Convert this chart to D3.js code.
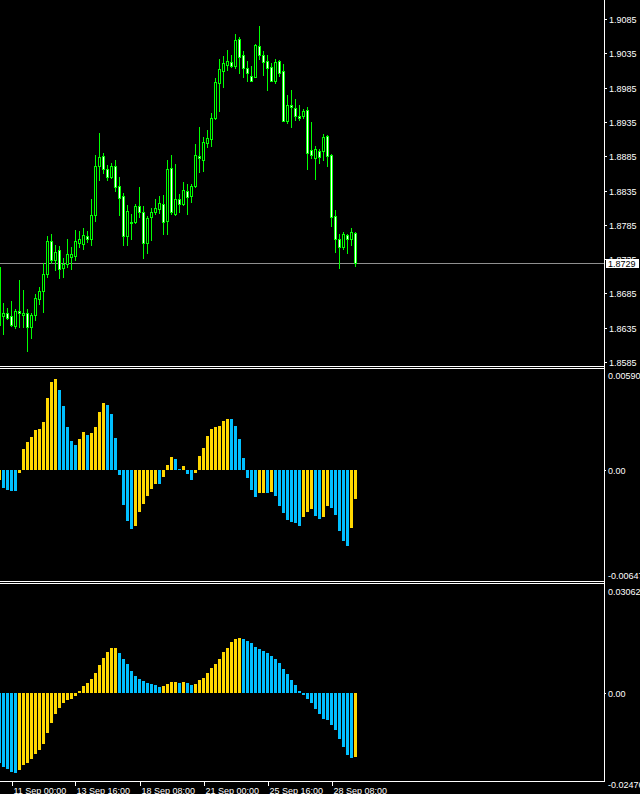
<!DOCTYPE html>
<html><head><meta charset="utf-8">
<script src="https://cdn.jsdelivr.net/npm/d3@7"></script>
<style>html,body{margin:0;padding:0;background:#000;overflow:hidden}</style>
</head><body>
<script>
// ---- DATA ----
const opens = [1.8724,1.8652,1.8657,1.8652,1.8637,1.8659,1.8654,1.8656,1.8636,1.8653,
1.8677,1.8688,1.8714,1.8761,1.8734,1.8748,1.8722,1.8728,1.8738,1.8740,
1.8759,1.8757,1.8769,1.8765,1.8800,1.8870,1.8885,1.8867,1.8854,1.8871,
1.8842,1.8827,1.8768,1.8789,1.8789,1.8812,1.8804,1.8759,1.8796,1.8803,
1.8808,1.8815,1.8791,1.8868,1.8801,1.8823,1.8816,1.8834,1.8827,1.8842,
1.8886,1.8879,1.8904,1.8910,1.8941,1.8991,1.9009,1.9018,1.9022,1.9017,
1.9056,1.9032,1.9014,1.9002,1.9001,1.9046,1.9032,1.9024,1.9015,1.8994,
1.9024,1.9009,1.8937,1.8960,1.8955,1.8944,1.8944,1.8952,1.8894,1.8883,
1.8893,1.8892,1.8914,1.8887,1.8798,1.8764,1.8752,1.8770,1.8765,1.8773];
const highs = [1.8726,1.8671,1.8663,1.8674,1.8662,1.8704,1.8690,1.8662,1.8656,1.8684,
1.8695,1.8730,1.8769,1.8772,1.8756,1.8754,1.8737,1.8764,1.8753,1.8777,
1.8776,1.8780,1.8776,1.8823,1.8887,1.8919,1.8890,1.8872,1.8875,1.8879,
1.8855,1.8832,1.8814,1.8801,1.8815,1.8840,1.8812,1.8798,1.8809,1.8823,
1.8827,1.8828,1.8879,1.8887,1.8874,1.8830,1.8847,1.8844,1.8844,1.8903,
1.8928,1.8913,1.8923,1.8948,1.8999,1.9027,1.9031,1.9040,1.9032,1.9063,
1.9059,1.9038,1.9024,1.9016,1.9049,1.9075,1.9038,1.9032,1.9021,1.9027,
1.9025,1.9019,1.8974,1.8981,1.8968,1.8960,1.8954,1.8957,1.8935,1.8900,
1.8896,1.8917,1.8916,1.8888,1.8807,1.8772,1.8774,1.8772,1.8780,1.8774];
const lows = [1.8636,1.8626,1.8647,1.8638,1.8635,1.8636,1.8636,1.8601,1.8620,1.8646,
1.8669,1.8658,1.8709,1.8729,1.8719,1.8708,1.8709,1.8724,1.8721,1.8733,
1.8752,1.8749,1.8760,1.8755,1.8791,1.8850,1.8860,1.8850,1.8853,1.8835,
1.8800,1.8755,1.8755,1.8765,1.8788,1.8797,1.8736,1.8744,1.8763,1.8801,
1.8802,1.8772,1.8772,1.8801,1.8800,1.8803,1.8814,1.8801,1.8818,1.8840,
1.8862,1.8863,1.8898,1.8900,1.8939,1.8951,1.8986,1.9010,1.9015,1.9014,
1.9007,1.9001,1.8994,1.8994,1.9000,1.9026,1.9003,1.8982,1.8994,1.8991,
1.9002,1.8936,1.8934,1.8928,1.8938,1.8938,1.8941,1.8867,1.8882,1.8852,
1.8875,1.8880,1.8870,1.8783,1.8746,1.8722,1.8749,1.8744,1.8755,1.8725];
const closes = [1.8639,1.8656,1.8649,1.8639,1.8659,1.8657,1.8656,1.8636,1.8654,1.8678,
1.8688,1.8714,1.8761,1.8733,1.8745,1.8721,1.8728,1.8742,1.8742,1.8762,
1.8764,1.8770,1.8764,1.8799,1.8871,1.8884,1.8866,1.8855,1.8871,1.8840,
1.8824,1.8768,1.8805,1.8787,1.8812,1.8803,1.8758,1.8795,1.8804,1.8809,
1.8817,1.8789,1.8866,1.8803,1.8823,1.8815,1.8836,1.8825,1.8842,1.8887,
1.8883,1.8906,1.8911,1.8941,1.8993,1.9012,1.9021,1.9024,1.9017,1.9054,
1.9030,1.9014,1.9007,1.8995,1.9047,1.9033,1.9022,1.9014,1.8995,1.9022,
1.9007,1.8937,1.8960,1.8956,1.8943,1.8941,1.8951,1.8889,1.8887,1.8896,
1.8884,1.8913,1.8886,1.8797,1.8765,1.8752,1.8771,1.8765,1.8774,1.8729];
const lastPrice = 1.8729;
const priceTicks = [1.9085,1.9035,1.8985,1.8935,1.8885,1.8835,1.8785,1.8735,1.8685,1.8635,1.8585];

const osc1 = [-0.00056,-0.00103,-0.00115,-0.00121,-0.00121,-0.00016,0.00123,0.00164,0.00193,0.00234,
0.00240,0.00286,0.00426,0.00520,0.00537,0.00473,0.00380,0.00257,0.00169,0.00146,
0.00181,0.00222,0.00210,0.00216,0.00257,0.00345,0.00397,0.00386,0.00333,0.00187,
-0.00029,-0.00204,-0.00298,-0.00345,-0.00327,-0.00245,-0.00199,-0.00152,-0.00111,-0.00082,
-0.00082,-0.00041,0.00029,0.00076,0.00064,0.00004,0.00023,-0.00023,-0.00058,-0.00018,
0.00082,0.00129,0.00199,0.00240,0.00257,0.00263,0.00292,0.00304,0.00303,0.00263,
0.00181,0.00070,-0.00047,-0.00117,-0.00158,-0.00134,-0.00133,-0.00135,-0.00129,-0.00152,
-0.00210,-0.00251,-0.00292,-0.00304,-0.00310,-0.00327,-0.00275,-0.00245,-0.00228,-0.00269,
-0.00286,-0.00275,-0.00210,-0.00222,-0.00263,-0.00356,-0.00420,-0.00444,-0.00339,-0.00168];
const osc1State = ("U"+"DDDD"+"UUUUUUUUUU"+"DDDDD"+"UU"+"D"+"UUUU"+"DDDDDDD"+"UUUUUU"+"D"+"UUU"+"DD"+"U"+"DD"+
  "UUUUUUUUU"+"DDDDDDD"+"UU"+"D"+"U"+"DDDDDDD"+"UUU"+"DD"+"UU"+"DDDDD"+"UU").split("");
const osc1Max = 0.00590, osc1Min = -0.00647;

const osc2 = [-0.02003,-0.02118,-0.02175,-0.02261,-0.02290,-0.02204,-0.02060,-0.02003,-0.01889,-0.01746,
-0.01631,-0.01460,-0.01145,-0.00859,-0.00601,-0.00429,-0.00286,-0.00200,-0.00172,-0.00086,
0.00057,0.00200,0.00286,0.00400,0.00572,0.00801,0.01002,0.01173,0.01288,0.01290,
0.01145,0.00973,0.00830,0.00630,0.00487,0.00400,0.00343,0.00286,0.00258,0.00229,
0.00172,0.00200,0.00258,0.00315,0.00316,0.00286,0.00315,0.00286,0.00229,0.00258,
0.00372,0.00429,0.00572,0.00716,0.00830,0.00973,0.01173,0.01288,0.01460,0.01545,
0.01574,0.01545,0.01488,0.01431,0.01317,0.01259,0.01202,0.01145,0.01059,0.00973,
0.00859,0.00687,0.00544,0.00372,0.00229,0.00057,-0.00057,-0.00172,-0.00286,-0.00458,
-0.00601,-0.00744,-0.00773,-0.00916,-0.01059,-0.01317,-0.01545,-0.01774,-0.01860,-0.01832];
const osc2State = ("DDDDD"+"UUUUUUUUUUUUUUUUUUUUUUUUU"+"DDDDDDDDDDD"+"UUUU"+"D"+"U"+"DD"+"UUUUUUUUUUUU"+
  "DDDDDDDDDDDDDDDDDDDDDDDDDDDD"+"U").split("");
const osc2Max = 0.03062, osc2Min = -0.02476;

const timeTickIndex = [3,19,35,51,67,83];
const timeTickLabels = ["11 Sep 00:00","13 Sep 16:00","18 Sep 08:00","21 Sep 00:00","25 Sep 16:00","28 Sep 08:00"];

// ---- DRAW ----
const W = 640, H = 794, axisX = 604;
const FONT = "'Liberation Sans', Arial, sans-serif";
const svg = d3.select("body").append("svg").attr("width", W).attr("height", H)
  .style("display","block").style("background","#000");

const n = closes.length;
const x = d3.scaleLinear().domain([0, n - 1]).range([-0.5, 4 * (n - 1) - 0.5]);
const yP = d3.scaleLinear().domain([1.8585, 1.9085]).range([362, 19]);
const y1 = d3.scaleLinear().domain([osc1Min, osc1Max]).range([580, 370]);
const y2 = d3.scaleLinear().domain([osc2Min, osc2Max]).range([780, 586]);

const defs = svg.append("defs");
defs.append("clipPath").attr("id","cp0").append("rect").attr("x",0).attr("y",0).attr("width",axisX).attr("height",366);
defs.append("clipPath").attr("id","cp1").append("rect").attr("x",0).attr("y",369).attr("width",axisX).attr("height",212);
defs.append("clipPath").attr("id","cp2").append("rect").attr("x",0).attr("y",584).attr("width",axisX).attr("height",197);

// current price line
svg.append("line").attr("x1",0).attr("x2",axisX).attr("y1",Math.round(yP(lastPrice))+0.5).attr("y2",Math.round(yP(lastPrice))+0.5)
  .attr("stroke","#8f8f8f").attr("shape-rendering","crispEdges");

// candles
const gC = svg.append("g").attr("clip-path","url(#cp0)").attr("shape-rendering","crispEdges");
const idx = d3.range(n);
gC.selectAll("line.w").data(idx).join("line").attr("class","w")
  .attr("x1", i => x(i)).attr("x2", i => x(i))
  .attr("y1", i => Math.round(yP(highs[i]))).attr("y2", i => Math.round(yP(lows[i])) + 1)
  .attr("stroke","#00ff00").attr("stroke-width",1);
gC.selectAll("rect.b").data(idx).join("rect").attr("class","b")
  .attr("x", i => x(i) - 1)
  .attr("y", i => Math.round(yP(Math.max(opens[i], closes[i]))) + 0.5)
  .attr("width", 2)
  .attr("height", i => Math.max(0, Math.round(yP(Math.min(opens[i], closes[i]))) - Math.round(yP(Math.max(opens[i], closes[i])))))
  .attr("fill", i => closes[i] < opens[i] ? "#ffffff" : "#000000")
  .attr("stroke","#00ff00").attr("stroke-width",1);

// histograms
function hist(data, state, y, clip) {
  const g = svg.append("g").attr("clip-path", clip).attr("shape-rendering","crispEdges");
  const y0 = Math.round(y(0));
  g.selectAll("rect").data(idx).join("rect")
    .attr("x", i => x(i) - 1.5)
    .attr("width", 3)
    .attr("y", i => data[i] >= 0 ? Math.round(y(data[i])) : y0)
    .attr("height", i => Math.max(1, Math.abs(Math.round(y(data[i])) - y0)))
    .attr("fill", i => state[i] === "U" ? "#ffd700" : "#00bfff");
}
hist(osc1, osc1State, y1, "url(#cp1)");
hist(osc2, osc2State, y2, "url(#cp2)");

// frames
const fr = svg.append("g").attr("stroke","#ffffff").attr("stroke-width",1).attr("shape-rendering","crispEdges");
[366.5, 368.5, 581.5, 583.5, 781.5].forEach(yy =>
  fr.append("line").attr("x1",0).attr("x2",axisX + 1).attr("y1",yy).attr("y2",yy));
fr.append("line").attr("x1",axisX + 0.5).attr("x2",axisX + 0.5).attr("y1",0).attr("y2",782);

// price axis
const ax = svg.append("g").attr("font-family", FONT).attr("font-size", 9).attr("fill","#fff");
priceTicks.forEach(p => {
  const yy = Math.round(yP(p));
  fr.append("line").attr("x1",axisX).attr("x2",axisX + 3).attr("y1",yy + 0.5).attr("y2",yy + 0.5);
  ax.append("text").attr("x",609).attr("y",yy + 3.5).text(p.toFixed(4));
});
// last price box
const ly = Math.round(yP(lastPrice));
svg.append("rect").attr("x",606).attr("y",ly - 4).attr("width",33).attr("height",9).attr("fill","#fff");
svg.append("text").attr("x",608).attr("y",ly + 3.5).attr("font-family",FONT).attr("font-size",9)
  .attr("fill","#000").text(lastPrice.toFixed(4));

// oscillator labels
function oscLabels(y, maxV, minV, dec) {
  ax.append("text").attr("x",608).attr("y",y(maxV) + 9).text(maxV.toFixed(5));
  const z = Math.round(y(0));
  fr.append("line").attr("x1",axisX).attr("x2",axisX + 2).attr("y1",z + 0.5).attr("y2",z + 0.5);
  ax.append("text").attr("x",608).attr("y",z + 3.5).text("0.00");
  ax.append("text").attr("x",608).attr("y",y(minV) + dec).text(minV.toFixed(5));
}
oscLabels(y1, osc1Max, osc1Min, -1);
oscLabels(y2, osc2Max, osc2Min, 7.5);

// time axis
timeTickIndex.forEach((ti, k) => {
  const xx = Math.round(x(ti)) + 0.5;
  fr.append("line").attr("x1",xx).attr("x2",xx).attr("y1",781).attr("y2",786);
  ax.append("text").attr("x",xx + 1).attr("y",794).text(timeTickLabels[k]);
});
</script>
</body></html>
